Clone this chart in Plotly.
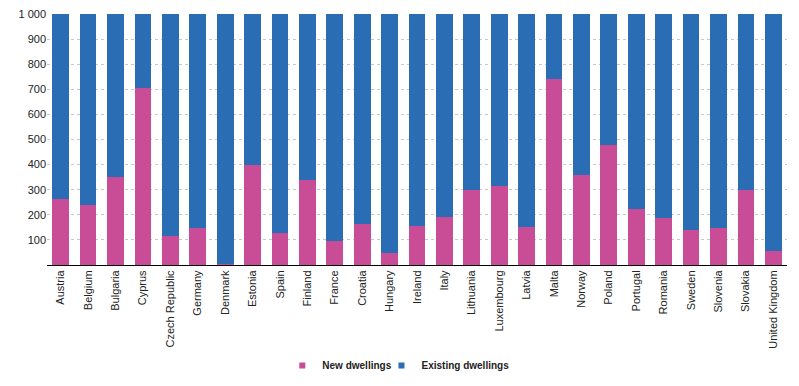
import plotly.graph_objects as go

countries = ["Austria", "Belgium", "Bulgaria", "Cyprus", "Czech Republic", "Germany", "Denmark",
             "Estonia", "Spain", "Finland", "France", "Croatia", "Hungary", "Ireland", "Italy",
             "Lithuania", "Luxembourg", "Latvia", "Malta", "Norway", "Poland", "Portugal",
             "Romania", "Sweden", "Slovenia", "Slovakia", "United Kingdom"]
new_dwellings = [264, 240, 350, 705, 116, 148, 5, 400, 129, 340, 95, 165, 46, 155, 190,
                 299, 314, 151, 742, 358, 479, 225, 186, 139, 146, 299, 57]
existing_dwellings = [736, 760, 650, 295, 884, 852, 995, 600, 871, 660, 905, 835, 954, 845, 810,
                      701, 686, 849, 258, 642, 521, 775, 814, 861, 854, 701, 943]
tick_vals = [100, 200, 300, 400, 500, 600, 700, 800, 900, 1000]
tick_text = ["100", "200", "300", "400", "500", "600", "700", "800", "900", "1 000"]

PINK = "#C84C96"
BLUE = "#2A6DB4"

fig = go.Figure()
fig.add_trace(go.Bar(x=countries, y=new_dwellings, name="New dwellings", showlegend=False,
                     marker=dict(color=PINK, line=dict(width=0))))
fig.add_trace(go.Bar(x=countries, y=existing_dwellings, name="Existing dwellings", showlegend=False,
                     marker=dict(color=BLUE, line=dict(width=0))))
# legend entries with small square markers, each in its own legend box
fig.add_trace(go.Scatter(x=[None], y=[None], mode="markers", name="New dwellings",
                         marker=dict(symbol="square", size=6, color=PINK), legend="legend"))
fig.add_trace(go.Scatter(x=[None], y=[None], mode="markers", name="Existing dwellings",
                         marker=dict(symbol="square", size=6, color=BLUE), legend="legend2"))

leg_common = dict(orientation="h", yanchor="middle", y=-0.400, xanchor="left",
                  font=dict(size=10, color="#222", weight="bold"),
                  itemwidth=30, bgcolor="rgba(0,0,0,0)")

# the page body has an 8px margin, so the figure is made 8px smaller on each axis
fig.update_layout(
    barmode="stack",
    bargap=0.39,
    width=791, height=378,
    margin=dict(l=39, r=12, t=6, b=117),
    plot_bgcolor="white", paper_bgcolor="white",
    font=dict(family="Liberation Sans, Arial, sans-serif", size=11, color="#222"),
    showlegend=True,
    legend=dict(x=0.318, **leg_common),
    legend2=dict(x=0.452, **leg_common),
)
fig.update_xaxes(tickangle=-90, showgrid=False, showline=True, linecolor="#000", linewidth=1,
                 ticks="", tickfont=dict(size=11), automargin=False)
fig.update_yaxes(range=[0, 1000], tickvals=tick_vals, ticktext=tick_text, showgrid=True,
                 gridcolor="#C8C8C8", griddash="dot", gridwidth=1, zeroline=False,
                 showline=False, ticks="", tickfont=dict(size=11), automargin=False,
                 ticklabeloverflow="allow")

fig.write_html("out.html")
